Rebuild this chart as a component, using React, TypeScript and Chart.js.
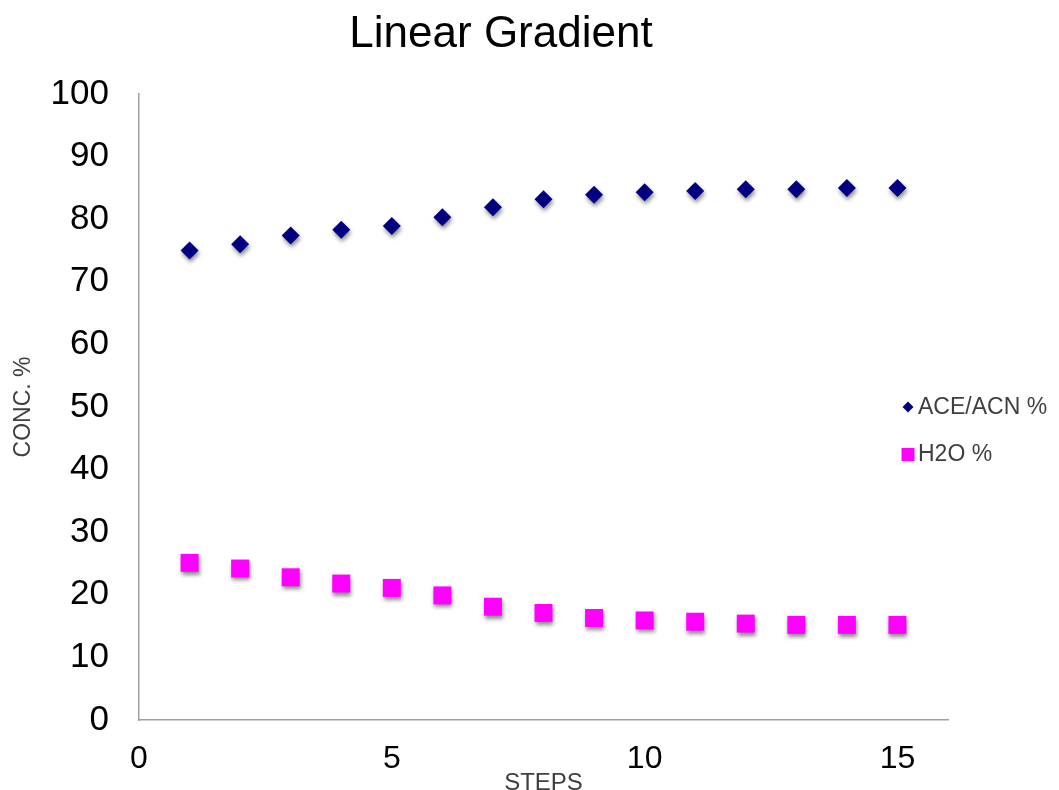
import React, { useEffect, useRef } from 'react';
import { Chart, registerables } from 'chart.js';

Chart.register(...registerables);

// Gradient steps and the two solvent concentrations (%)
const steps = [1, 2, 3, 4, 5, 6, 7, 8, 9, 10, 11, 12, 13, 14, 15];
const aceAcn = [75.0, 76.0, 77.4, 78.3, 78.9, 80.3, 81.9, 83.2, 83.9, 84.3, 84.5, 84.8, 84.8, 85.0, 85.0];
const water = [25.1, 24.2, 22.8, 21.8, 21.1, 19.9, 18.1, 17.1, 16.3, 15.9, 15.7, 15.4, 15.2, 15.2, 15.2];

const seriesLabels = ['ACE/ACN %', 'H2O %'];
const seriesColors = ['#000080', '#FF00FF'];
const chartTitle = 'Linear Gradient';
const xAxisTitle = 'STEPS';
const yAxisTitle = 'CONC. %';

const FONT = '"Liberation Sans", Arial, Helvetica, sans-serif';

// Soft drop shadow under every marker
const markerShadow = {
  id: 'markerShadow',
  beforeDatasetDraw(chart: any) {
    const c = chart.ctx;
    c.save();
    c.shadowColor = 'rgba(0,0,0,0.45)';
    c.shadowBlur = 4;
    c.shadowOffsetX = 1;
    c.shadowOffsetY = 3;
  },
  afterDatasetDraw(chart: any) {
    chart.ctx.restore();
  },
};

// Title centred over the plot
const titlePlugin = {
  id: 'gradientTitle',
  afterDraw(chart: any) {
    const c = chart.ctx;
    c.save();
    c.font = `44px ${FONT}`;
    c.fillStyle = '#000000';
    c.textAlign = 'center';
    c.textBaseline = 'middle';
    c.fillText(chartTitle, 501, 35);
    c.restore();
  },
};

// Compact legend on the right, built from the datasets
const sideLegend = {
  id: 'sideLegend',
  afterDraw(chart: any) {
    const c = chart.ctx;
    const rows = [407, 454];
    c.save();
    chart.data.datasets.forEach((ds: any, i: number) => {
      const y = rows[i];
      const x = 908;
      c.fillStyle = ds.backgroundColor;
      c.beginPath();
      if (ds.pointStyle === 'rectRot') {
        const r = 5.5;
        c.moveTo(x - r, y);
        c.lineTo(x, y - r);
        c.lineTo(x + r, y);
        c.lineTo(x, y + r);
        c.closePath();
      } else {
        c.rect(x - 6.5, y - 6, 13, 13);
      }
      c.fill();
      c.font = `23px ${FONT}`;
      c.fillStyle = '#3f3f3f';
      c.textAlign = 'left';
      c.textBaseline = 'middle';
      c.fillText(ds.label, 918, y + 1);
    });
    c.restore();
  },
};

export default function App() {
  const canvasRef = useRef<HTMLCanvasElement | null>(null);

  useEffect(() => {
    if (!canvasRef.current) return;
    const chart = new Chart(canvasRef.current, {
      type: 'scatter',
      data: {
        datasets: [
          {
            label: seriesLabels[0],
            data: steps.map((s, i) => ({ x: s, y: aceAcn[i] })),
            pointStyle: 'rectRot',
            pointRadius: 9,
            pointBorderWidth: 0,
            backgroundColor: seriesColors[0],
            borderColor: seriesColors[0],
            showLine: false,
          },
          {
            label: seriesLabels[1],
            data: steps.map((s, i) => ({ x: s, y: water[i] })),
            pointStyle: 'rect',
            pointRadius: 12.7,
            pointBorderWidth: 0,
            backgroundColor: seriesColors[1],
            borderColor: seriesColors[1],
            showLine: false,
          },
        ],
      },
      options: {
        responsive: false,
        animation: false,
        layout: { padding: { top: 94, right: 111, left: 0, bottom: 0 } },
        plugins: {
          legend: { display: false },
          title: { display: false },
          tooltip: { enabled: false },
        },
        scales: {
          x: {
            type: 'linear',
            min: 0,
            max: 16,
            afterFit(scale: any) {
              scale.height = 70;
            },
            grid: { display: false, drawTicks: false },
            border: { display: true, color: '#a0a0a0', width: 1.5 },
            ticks: {
              stepSize: 5,
              includeBounds: false,
              padding: 20,
              color: '#000000',
              font: { family: FONT, size: 32 },
              maxRotation: 0,
            },
            title: {
              display: true,
              text: xAxisTitle,
              color: '#3f3f3f',
              font: { family: FONT, size: 24, lineHeight: 0.6 },
              padding: { top: 0, bottom: -1 },
            },
          },
          y: {
            type: 'linear',
            min: 0,
            max: 100,
            afterFit(scale: any) {
              scale.width = 139;
            },
            grid: { display: false, drawTicks: false },
            border: { display: true, color: '#a0a0a0', width: 1.5 },
            ticks: {
              stepSize: 10,
              padding: 30,
              color: '#000000',
              font: { family: FONT, size: 35 },
            },
            title: {
              display: true,
              text: yAxisTitle,
              color: '#3f3f3f',
              font: { family: FONT, size: 23, lineHeight: 1 },
              padding: { top: 12.5, bottom: 0 },
            },
          },
        },
      },
      plugins: [markerShadow, titlePlugin, sideLegend],
    } as any);
    return () => chart.destroy();
  }, []);

  return (
    <div style={{ position: 'fixed', left: 0, top: 0, width: 1059, height: 790, background: '#ffffff' }}>
      <canvas ref={canvasRef} width={1059} height={790} style={{ width: 1059, height: 790, display: 'block' }} />
    </div>
  );
}
